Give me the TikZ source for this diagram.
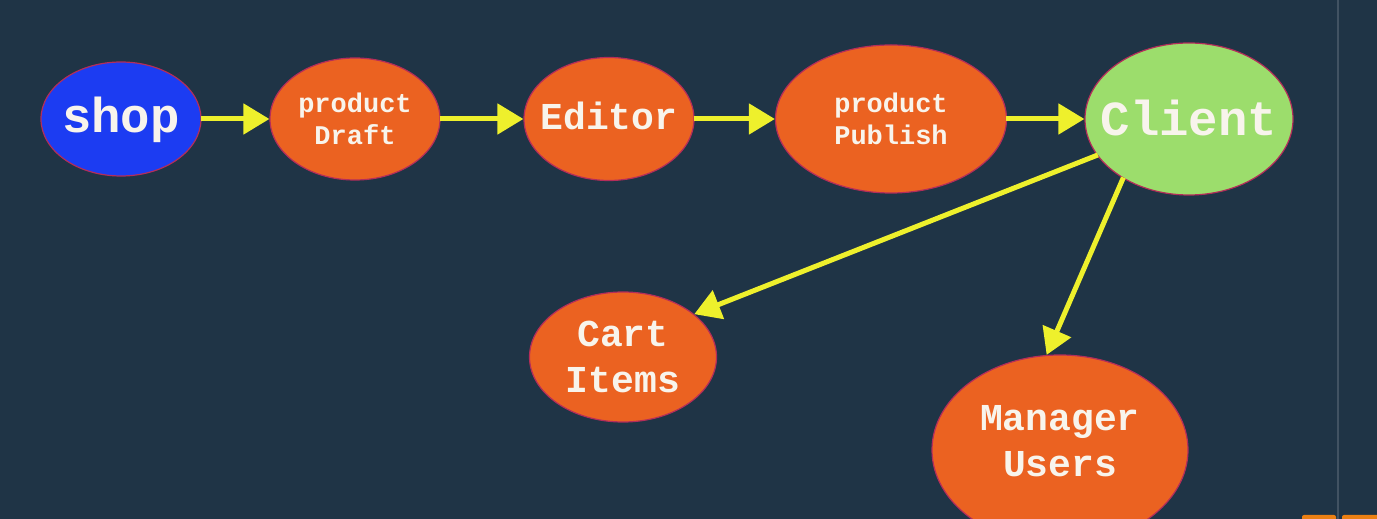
\documentclass[tikz,border=0pt]{standalone}
\usepackage{fontspec}
\setmonofont{Liberation Mono}
\usepackage{tikz}
\usetikzlibrary{math,shapes.geometric,arrows.meta}
\definecolor{boardBg}{HTML}{1F3446}
\definecolor{shopBlue}{HTML}{1C3CF2}
\definecolor{stepOrange}{HTML}{EB6221}
\definecolor{clientGreen}{HTML}{9CDD6C}
\definecolor{rimRed}{HTML}{B42D5A}
\definecolor{flowYellow}{HTML}{EEF02C}
\definecolor{labelWhite}{HTML}{F8F4EC}
\tikzset{
  bubble/.style = {shape=ellipse, draw=rimRed, line width=1.2pt,
    fill=stepOrange, inner sep=0pt, text height=0pt, text depth=0pt,
    text=labelWhite, font=\ttfamily\bfseries},
  flow/.style = {draw=flowYellow, line width=5pt,
    -{Triangle[length=26pt,width=30pt]}, shorten <=-1pt}
}
\newcommand{\bigsize}{\fontsize{49}{52}\selectfont}
\newcommand{\midsize}{\fontsize{38}{46}\selectfont}
\newcommand{\smallsize}{\fontsize{27}{32}\selectfont}
% text of a bubble: first baseline raised by #1, kept out of the bubble's size
\newcommand{\ovaltext}[2]{\makebox[0pt]{\raisebox{#1}[0pt][0pt]{%
  \begin{tabular}[t]{@{}c@{}}#2\end{tabular}}}}

\begin{document}
\begin{tikzpicture}[x=1pt,y=1pt]
    \tikzmath{
      \rowY = 400;
      \cartY = 162;
      \managerY = 69;
    }
    \useasboundingbox (0,0) rectangle (1377,519);
    \clip (0,0) rectangle (1377,519);
    \fill[boardBg] (0,0) rectangle (1377,519);
    \fill[boardBg!85!white] (1337,0) rectangle (1339,519);
    \fill[rounded corners=2pt, orange!70!brown] (1302,-4) rectangle (1336,4);
    \fill[rounded corners=2pt, orange!70!brown] (1342,-4) rectangle (1381,4);
    \node[bubble, fill=shopBlue, minimum width=160pt, minimum height=114pt,
      font=\ttfamily\bfseries\bigsize] (shop) at (121, \rowY) {\ovaltext{-14pt}{shop}};
    \node[bubble, minimum width=170pt, minimum height=122pt,
      font=\ttfamily\bfseries\smallsize] (draft) at (355, \rowY) {\ovaltext{6pt}{product\\Draft}};
    \node[bubble, minimum width=170pt, minimum height=123pt,
      font=\ttfamily\bfseries\midsize] (editor) at (609, \rowY) {\ovaltext{-11pt}{Editor}};
    \node[bubble, minimum width=231pt, minimum height=148pt,
      font=\ttfamily\bfseries\smallsize] (publish) at (891, \rowY) {\ovaltext{6pt}{product\\Publish}};
    \node[bubble, fill=clientGreen, minimum width=208pt, minimum height=152pt,
      font=\ttfamily\bfseries\bigsize] (client) at (1189, \rowY) {\ovaltext{-17pt}{Client}};
    \node[bubble, minimum width=187pt, minimum height=130pt,
      font=\ttfamily\bfseries\midsize] (cart) at (623, \cartY) {\ovaltext{10pt}{Cart\\Items}};
    \node[bubble, minimum width=256pt, minimum height=190pt,
      font=\ttfamily\bfseries\midsize] (manager) at (1060, \managerY) {\ovaltext{19pt}{Manager\\Users}};
    \draw[flow] (shop) -- (draft);
    \draw[flow] (draft) -- (editor);
    \draw[flow] (editor) -- (publish);
    \draw[flow] (publish) -- (client);
    \draw[flow] (client) -- (cart.31);
    \draw[flow] (client.222) -- (manager.98);
  \end{tikzpicture}
\end{document}
